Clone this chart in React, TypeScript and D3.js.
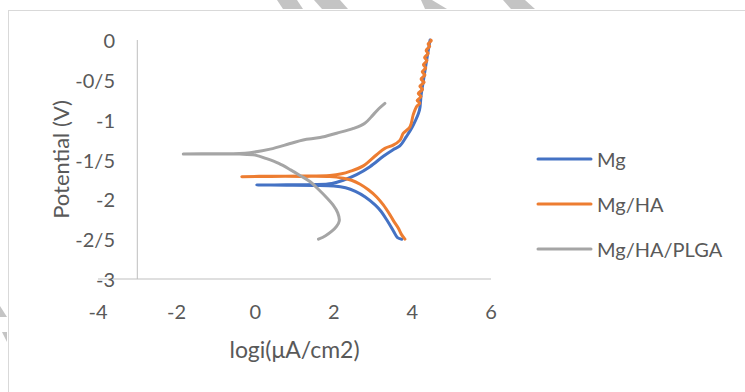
import React from 'react';
import * as d3 from 'd3';

// Tafel curves: [log i (µA/cm2), potential (V)]
const mgData: [number, number][] = [
  [3.73, -2.5], [3.62, -2.48], [3.52, -2.4], [3.35, -2.26], [3.2, -2.15], [3.05, -2.07],
  [2.8, -1.97], [2.55, -1.9], [2.3, -1.855], [2.0, -1.832], [1.5, -1.825], [0.8, -1.822],
  [0.04, -1.82],
  [0.8, -1.818], [1.5, -1.815], [1.95, -1.8], [2.24, -1.76], [2.58, -1.69], [2.92, -1.59],
  [3.26, -1.46], [3.5, -1.38], [3.68, -1.33], [3.85, -1.21], [4.02, -1.07], [4.18, -0.88],
  [4.22, -0.7], [4.3, -0.45], [4.38, -0.2], [4.45, 0],
];

const mgHaData: [number, number][] = [
  [3.81, -2.5], [3.72, -2.44], [3.64, -2.36], [3.52, -2.27], [3.43, -2.195], [3.26, -2.07],
  [3.09, -1.97], [2.88, -1.88], [2.67, -1.81], [2.45, -1.76], [2.24, -1.735], [1.9, -1.715],
  [1.2, -1.712], [0.4, -1.712], [-0.34, -1.715],
  [0.4, -1.71], [1.2, -1.708], [1.9, -1.7], [2.2, -1.68], [2.41, -1.65], [2.75, -1.58],
  [3.09, -1.44], [3.3, -1.36], [3.51, -1.32], [3.68, -1.26], [3.77, -1.17], [3.94, -1.09],
  [4.02, -0.94], [4.1, -0.84], [4.19, -0.79], [4.12, -0.76], [4.22, -0.71], [4.15, -0.67],
  [4.26, -0.62], [4.19, -0.58], [4.3, -0.53], [4.22, -0.49], [4.32, -0.44], [4.25, -0.4],
  [4.34, -0.35], [4.28, -0.31], [4.37, -0.26], [4.31, -0.22], [4.4, -0.17], [4.35, -0.13],
  [4.44, -0.08], [4.4, -0.05], [4.48, -0.01], [4.47, 0],
];

const mgHaPlgaData: [number, number][] = [
  [1.61, -2.5], [1.78, -2.46], [1.95, -2.4], [2.07, -2.34], [2.14, -2.27], [2.1, -2.17],
  [1.98, -2.07], [1.82, -1.98], [1.62, -1.88], [1.4, -1.78], [1.14, -1.7], [0.9, -1.63],
  [0.6, -1.55], [0.29, -1.49], [0.0, -1.445], [-0.4, -1.432], [-1.0, -1.43], [-1.83, -1.43],
  [-1.0, -1.428], [-0.4, -1.425], [-0.13, -1.414], [0.38, -1.37], [0.89, -1.3], [1.22, -1.255],
  [1.65, -1.225], [2.07, -1.17], [2.5, -1.11], [2.79, -1.045], [3.0, -0.94], [3.15, -0.86],
  [3.3, -0.795],
];

const seriesNames = ['Mg', 'Mg/HA', 'Mg/HA/PLGA'];
const seriesColors = ['#4472C4', '#ED7D31', '#A5A5A5'];
const xTicks = [-4, -2, 0, 2, 4, 6];
const yTicks = [0, -0.5, -1, -1.5, -2, -2.5, -3];

const W = 745;
const H = 392;
const FONT = 'Lato, "Open Sans", sans-serif';
const TEXT = '#595959';

export default function App() {
  const x = d3.scaleLinear().domain([-4, 6]).range([98, 491]);
  const y = d3.scaleLinear().domain([-3, 0]).range([279, 40]);

  const line = d3.line<[number, number]>()
    .x(d => x(d[0]))
    .y(d => y(d[1]))
    .curve(d3.curveCatmullRom.alpha(0.5));

  const allSeries = [mgData, mgHaData, mgHaPlgaData];
  const fmt = (v: number) => String(v).replace('.', '/');

  return (
    <svg width={W} height={H} style={{ position: 'absolute', left: 0, top: 0, background: '#fff' }}
      fontFamily={FONT}>
      {/* watermark bits */}
      <g fill="#c4c4c4">
        <polygon points="277,0 297,0 303,9 283,9" />
        <polygon points="314,0 340,0 348,9 322,9" />
        <polygon points="421,0 432,0 447,9 425,9" />
        <polygon points="503,0 525,0 535,9 511,9" />
        <polygon points="0,306 7,317 0,317" />
        <polygon points="2,332 7,332 7,342" />
      </g>
      <rect x={8.5} y={10.5} width={W} height={H} fill="none" stroke="#d9d9d9" strokeWidth={1} />

      {/* axes */}
      <line x1={x(-3)} x2={x(-3)} y1={y(0)} y2={y(-3)} stroke="#bfbfbf" strokeWidth={1} />
      <line x1={x(-4)} x2={x(6)} y1={y(-3)} y2={y(-3)} stroke="#bfbfbf" strokeWidth={1} />

      {yTicks.map(t => (
        <text key={'y' + t} x={115} y={y(t)} textAnchor="end" dominantBaseline="central"
          fontSize={20} fill={TEXT}>{fmt(t)}</text>
      ))}
      {xTicks.map(t => (
        <text key={'x' + t} x={x(t)} y={311} textAnchor="middle" dominantBaseline="central"
          fontSize={20} fill={TEXT}>{fmt(t)}</text>
      ))}

      <text transform={`translate(60,${(y(0) + y(-3)) / 2}) rotate(-90)`} textAnchor="middle"
        dominantBaseline="central" fontSize={22} fill={TEXT}>Potential (V)</text>
      <text x={(x(-4) + x(6)) / 2} y={349} textAnchor="middle" dominantBaseline="central"
        fontSize={23} fill={TEXT}>logi(μA/cm2)</text>

      {/* curves */}
      {allSeries.map((s, i) => (
        <path key={seriesNames[i]} d={line(s) || ''} fill="none" stroke={seriesColors[i]}
          strokeWidth={3} strokeLinejoin="round" strokeLinecap="round" />
      ))}

      {/* legend */}
      {seriesNames.map((n, i) => {
        const ly = [159, 204, 249][i];
        return (
          <g key={'lg' + n}>
            <line x1={538} x2={591} y1={ly} y2={ly} stroke={seriesColors[i]} strokeWidth={3}
              strokeLinecap="round" />
            <text x={597} y={ly} dominantBaseline="central" fontSize={20} fill={TEXT}>{n}</text>
          </g>
        );
      })}
    </svg>
  );
}
